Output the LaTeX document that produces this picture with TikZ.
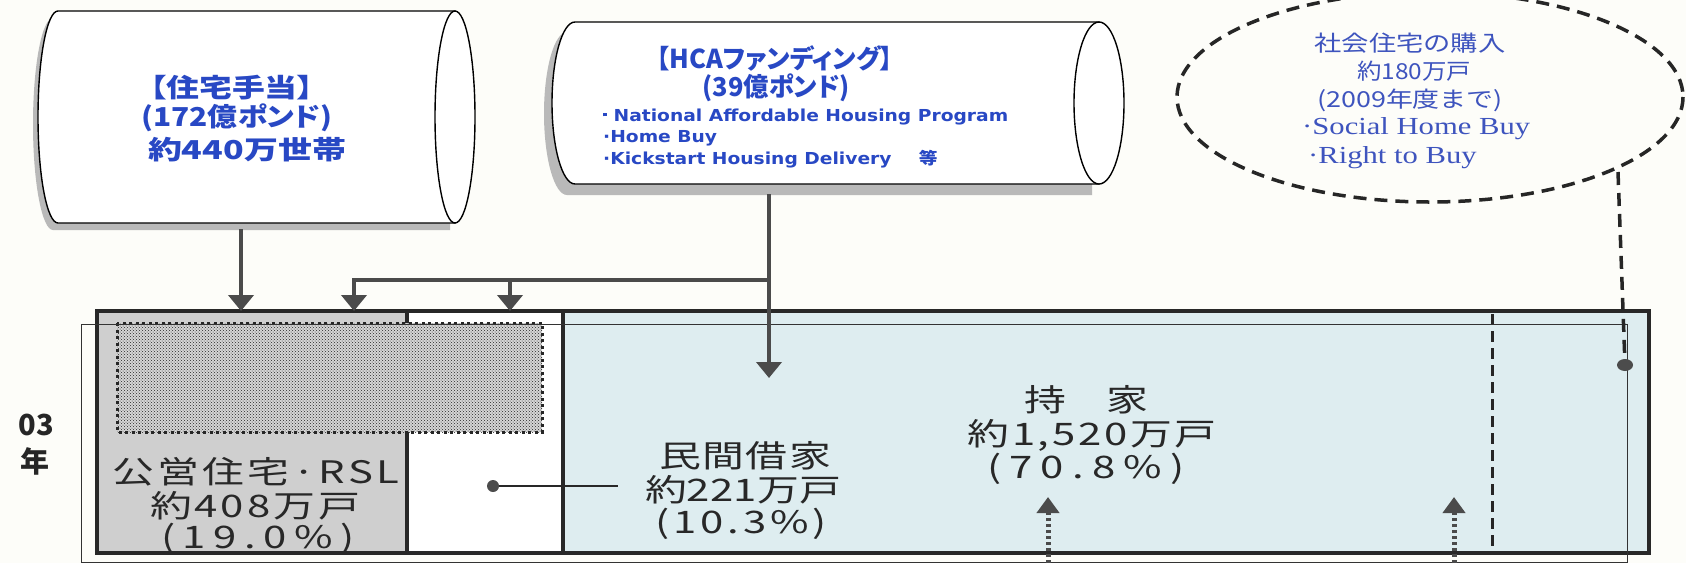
\documentclass[tikz,border=0pt]{standalone}
\usepackage{fontspec}
\usepackage{graphicx}
\usetikzlibrary{arrows.meta,patterns,shapes.geometric}
\newfontfamily\jp{Noto Sans CJK JP}
\newfontfamily\jpp{Noto Sans CJK JP}[RawFeature=+palt]
\newfontfamily\dvs{DejaVu Sans}
\newfontfamily\ser{Liberation Serif}
\definecolor{bg}{RGB}{253,253,249}
\definecolor{barblue}{RGB}{222,237,240}
\definecolor{bargray}{RGB}{207,207,207}
\definecolor{txtblue}{RGB}{40,72,196}
\definecolor{ltblue}{RGB}{62,84,190}
\definecolor{ink}{RGB}{40,40,40}
\definecolor{arrowgray}{RGB}{75,75,75}
\makeatletter
\def\spr@loop#1{\ifx#1\relax\else\hss#1\expandafter\spr@loop\fi}
\def\spr@first#1{#1\spr@loop}
\newcommand\spread[2]{\hbox to #1{\spr@first#2\relax}}
\makeatother
% bar labels: glyphs stretched 1.35x, spread to the given width
\newcommand\bspread[2]{\scalebox{1.35}[1]{\spread{\dimexpr #1*20/27\relax}{#2}}}
% stretch horizontally to a given width
\newcommand\fitw[2]{\resizebox{#1}{\height}{#2}}
\tikzset{
  cyl/.style={fill=white, draw=black, line width=1.4pt},
  shad/.style={fill=gray!55},
  conn/.style={line width=4pt, draw=arrowgray},
  tipdown/.style={-{Triangle[width=25pt,length=16pt]}},
  dotarrow/.style={line width=5pt, draw=arrowgray, dash pattern=on 3pt off 3pt, -{Triangle[width=22pt,length=16pt]}},
  barline/.style={line width=4pt, draw=ink},
  thinline/.style={line width=1pt, draw=black!80},
  vdash/.style={line width=3pt, draw=black!85, dash pattern=on 11pt off 6pt},
  ellc/.style={line width=3.5pt, draw=black!85, dash pattern=on 13pt off 8pt},
  dotbox/.style={line width=3pt, draw=black!85, dash pattern=on 3pt off 3.5pt},
  blob/.style={circle, fill=black!70, minimum size=12pt, inner sep=0pt},
  cyltxt/.style={inner sep=0pt, text=txtblue, font={\jpp\bfseries\fontsize{26pt}{30pt}\selectfont}},
  bultxt/.style={inner sep=0pt, anchor=north west, text=txtblue, font={\dvs\bfseries\fontsize{16.5pt}{21.5pt}\selectfont}},
  elltxt/.style={inner sep=0pt, text=ltblue, font={\jp\fontsize{22pt}{25pt}\selectfont}},
  ellser/.style={inner sep=0pt, anchor=west, text=ltblue, font={\ser\fontsize{24.5pt}{27pt}\selectfont}},
  bartxt/.style={inner sep=0pt, text=ink, font={\jp\fontsize{31pt}{34pt}\selectfont}},
  yeartxt/.style={inner sep=0pt, text=black!85, font={\jp\bfseries\fontsize{29pt}{30pt}\selectfont}},
}
\begin{document}
\begin{tikzpicture}[x=1pt,y=-1pt]
\fill[bg] (0,0) rectangle (1686,563);
\useasboundingbox (0,0) rectangle (1686,563);

% ---- left cylinder
\fill[shad] (53,18) -- (450,18) -- (450,230) -- (53,230) arc[start angle=90,end angle=270,x radius=20,y radius=106] -- cycle;
\filldraw[cyl] (58,11) -- (455,11) -- (455,223) -- (58,223) arc[start angle=90,end angle=270,x radius=20,y radius=106] -- cycle;
\filldraw[cyl] (455,117) ellipse [x radius=20,y radius=106];
\node[cyltxt] (a1) at (232,88) {\fitw{164pt}{【住宅手当】}};
\node[cyltxt] (a2) at (237,118) {\fitw{191pt}{(172億ポンド)}};
\node[cyltxt] (a3) at (247,150) {\fitw{198pt}{約440万世帯}};
\coordinate (cylA) at (241,229);

% ---- middle cylinder
\fill[shad] (567,32) -- (1092,32) -- (1092,195) -- (567,195) arc[start angle=90,end angle=270,x radius=23,y radius=81.5] -- cycle;
\filldraw[cyl] (575,22) -- (1099,22) -- (1099,184) -- (575,184) arc[start angle=90,end angle=270,x radius=23,y radius=81] -- cycle;
\filldraw[cyl] (1099,103) ellipse [x radius=25,y radius=81];
\node[cyltxt] (b1) at (775,58) {\fitw{236pt}{【HCAファンディング】}};
\node[cyltxt] (b2) at (776,88) {\fitw{147pt}{(39億ポンド)}};
\node[bultxt] (b3) at (603,106) {\fitw{405pt}{\begin{tabular}{@{}l@{}}\raisebox{5pt}{\rule{3.5pt}{3.5pt}} National Affordable Housing Program\\
·Home Buy\\
·Kickstart Housing Delivery\hspace{24pt}{\jp 等}\end{tabular}}};
\coordinate (cylB) at (769,194);

% ---- dashed ellipse
\draw[ellc] (1430,97) ellipse [x radius=253,y radius=105];
\node[elltxt] (c1) at (1410,43) {\fitw{191pt}{社会住宅の購入}};
\node[elltxt] (c2) at (1414,71) {\fitw{114pt}{約180万戸}};
\node[elltxt] (c3) at (1410,100) {\fitw{186pt}{(2009年度まで)}};
\node[ellser] (c4) at (1302,129) {\scalebox{1.25}[1]{·Social Home Buy}};
\node[ellser] (c5) at (1308,158) {\scalebox{1.25}[1]{·Right to Buy}};
\coordinate (ellC) at (1618,172);

% ---- bar
\fill[bargray] (97,311) rectangle (407,553);
\fill[white] (407,311) rectangle (563,553);
\fill[barblue] (563,311) rectangle (1649,553);
\draw[barline] (407,311) -- (407,553);
\draw[barline] (563,311) -- (563,553);
\draw[vdash] (1492,314) -- (1492,546);
\fill[gray!32] (117,323) rectangle (542,432);
\fill[pattern=crosshatch dots, pattern color=black!85] (117,323) rectangle (542,432);
\draw[dotbox] (117,323) rectangle (542,432);

\node[bartxt] (p1) at (256,472) {\bspread{287pt}{公営住宅·RSL}};
\node[bartxt] (p2) at (255,506) {\bspread{210pt}{約408万戸}};
\node[bartxt] (p3) at (258,539) {\bspread{194pt}{(19.0\%)}};
\node[bartxt] (q1) at (745,456) {\bspread{172pt}{民間借家}};
\node[bartxt] (q2) at (743,490) {\bspread{196pt}{約221万戸}};
\node[bartxt] (q3) at (741,524) {\bspread{172pt}{(10.3\%)}};
\node[bartxt] (r1) at (1086,400) {\bspread{124pt}{持家}};
\node[bartxt] (r2) at (1092,435) {\bspread{249pt}{約1,520万戸}};
\node[bartxt] (r3) at (1086,469) {\bspread{198pt}{(70.8\%)}};

\draw[barline] (97,311) rectangle (1649,553);
\draw[thinline] (81,324) rectangle (1627,562);

% ---- connectors
\node[blob] (dot1) at (493,486) {};
\coordinate (dot1end) at (618,486);
\draw[line width=1.2pt, draw=ink] (dot1) -- (dot1end);
\node[ellipse, fill=black!70, minimum width=16pt, minimum height=12pt, inner sep=0pt] (dot2) at (1625,365) {};
\draw[ellc] (ellC) -- (dot2);

\coordinate (tA) at (241,311);
\coordinate (tB) at (769,378);
\coordinate (jB) at (769,280);
\coordinate (j3) at (510,280);
\coordinate (t2) at (354,311);
\coordinate (t3) at (510,311);
\draw[conn,tipdown] (cylA) -- (tA);
\draw[conn,tipdown] (cylB) -- (tB);
\draw[conn,tipdown] (jB) -| (t2);
\draw[conn,tipdown] (j3) -- (t3);

\coordinate (u1) at (1048,563);
\coordinate (u1t) at (1048,497);
\coordinate (u2) at (1454,563);
\coordinate (u2t) at (1454,497);
\draw[dotarrow] (u1) -- (u1t);
\draw[dotarrow] (u2) -- (u2t);

% ---- year label
\node[yeartxt] (y1) at (36,425) {03};
\node[yeartxt] (y2) at (35,461) {年};
\end{tikzpicture}
\end{document}
